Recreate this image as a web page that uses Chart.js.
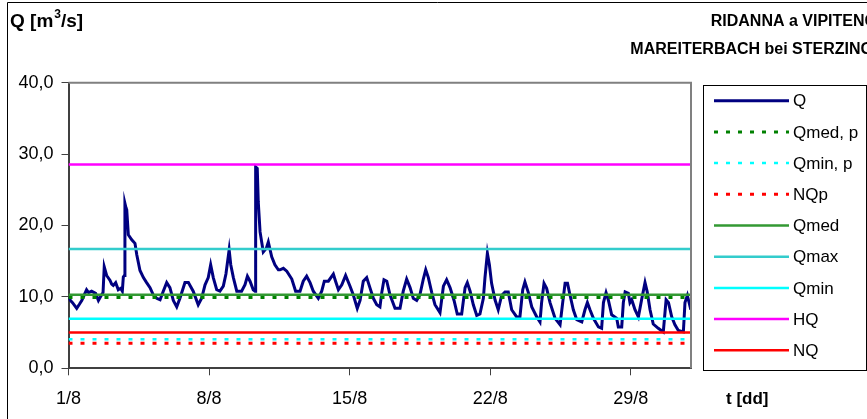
<!DOCTYPE html>
<html>
<head>
<meta charset="utf-8">
<script src="https://cdn.jsdelivr.net/npm/chart.js@4.4.1/dist/chart.umd.min.js"></script>
<style>
    html, body { margin: 0; padding: 0; background: #fff; }
</style>
</head>
<body>
<canvas id="qChart" width="867" height="419"></canvas>
<script>
// portata oraria (giorni dal 1/8, m3/s)
const qDays = [
    0.00, 0.10, 0.20, 0.41, 0.55, 0.66, 0.90, 1.00, 1.15, 1.35, 1.49, 1.65, 1.72, 1.78, 1.90,
    2.07, 2.15, 2.23, 2.35, 2.48, 2.60, 2.68, 2.73, 2.78, 2.81, 2.86, 2.90, 2.98, 3.15, 3.31,
    3.40, 3.56, 3.73, 3.89, 4.06, 4.22, 4.39, 4.56, 4.72, 4.89, 5.05, 5.22, 5.39, 5.55, 5.80,
    5.97, 6.21, 6.46, 6.63, 6.80, 6.96, 7.08, 7.21, 7.38, 7.54, 7.71, 7.84, 8.00, 8.08, 8.21,
    8.38, 8.62, 8.79, 8.91, 9.04, 9.20, 9.29, 9.32, 9.40, 9.45, 9.54, 9.70, 9.85, 9.95, 10.12,
    10.28, 10.45, 10.53, 10.70, 10.87, 11.12, 11.31, 11.53, 11.69, 11.86, 12.03, 12.19, 12.44, 12.61, 12.74,
    12.94, 13.19, 13.30, 13.44, 13.61, 13.80, 14.02, 14.18, 14.38, 14.52, 14.68, 14.85, 15.01, 15.18, 15.35,
    15.51, 15.60, 15.71, 15.85, 16.01, 16.26, 16.51, 16.67, 16.84, 17.01, 17.17, 17.34, 17.50, 17.67, 17.79,
    17.92, 18.09, 18.25, 18.50, 18.67, 18.83, 19.00, 19.20, 19.36, 19.58, 19.75, 19.86, 20.00, 20.16, 20.33,
    20.49, 20.66, 20.74, 20.86, 20.96, 21.07, 21.24, 21.40, 21.57, 21.74, 21.90, 22.07, 22.32, 22.48, 22.62,
    22.73, 22.90, 23.07, 23.32, 23.48, 23.56, 23.68, 23.81, 23.98, 24.23, 24.48, 24.61, 24.73, 24.85, 24.98,
    25.14, 25.31, 25.56, 25.72, 25.84, 25.97, 26.14, 26.39, 26.55, 26.64, 26.77, 26.88, 27.05, 27.30, 27.38,
    27.55, 27.63, 27.72, 27.88, 27.96, 28.05, 28.21, 28.38, 28.54, 28.71, 28.82, 28.96, 29.12, 29.37, 29.62,
    29.76, 29.88, 30.04, 30.20, 30.37, 30.62, 30.70, 30.82, 30.99
];
const qValues = [
    9.9, 9.5, 9.2, 8.4, 9.0, 9.5, 11.0, 10.6, 10.8, 10.5, 9.5, 10.3, 10.6, 14.2, 13.0,
    12.3, 11.8, 11.6, 12.0, 11.0, 11.2, 10.8, 12.8, 13.0, 23.1, 22.5, 22.2, 18.7, 18.0, 17.5,
    15.9, 13.7, 12.7, 12.0, 11.3, 10.3, 9.8, 9.6, 10.8, 12.0, 11.3, 9.5, 8.6, 9.8, 12.0,
    12.0, 10.8, 8.9, 9.8, 11.7, 12.7, 14.5, 12.7, 11.0, 10.8, 11.5, 13.2, 16.6, 14.5, 12.7,
    10.8, 10.8, 11.7, 12.9, 12.2, 11.0, 10.8, 28.2, 28.0, 23.3, 19.1, 16.3, 16.8, 17.7, 15.6,
    14.5, 13.8, 13.8, 14.0, 13.6, 12.5, 10.8, 10.8, 12.2, 12.9, 12.0, 10.8, 9.8, 10.8, 12.2,
    12.2, 13.2, 12.2, 11.0, 11.7, 13.0, 11.5, 10.3, 8.4, 9.5, 12.2, 12.7, 11.3, 9.8, 8.9,
    8.6, 10.6, 12.4, 12.2, 10.3, 8.4, 8.4, 10.8, 12.5, 11.3, 9.8, 9.5, 10.3, 12.5, 13.8,
    12.7, 10.6, 8.9, 7.8, 11.5, 12.4, 11.3, 9.5, 7.6, 7.6, 11.3, 12.0, 10.8, 8.9, 7.4,
    7.6, 9.8, 12.7, 16.1, 14.5, 11.9, 9.6, 8.2, 10.2, 10.7, 10.7, 8.2, 7.2, 7.2, 11.0,
    12.1, 10.6, 8.6, 7.2, 6.5, 9.2, 11.9, 11.2, 9.2, 7.0, 6.1, 9.2, 11.9, 11.9, 10.2,
    8.2, 6.8, 6.5, 8.2, 9.2, 8.2, 7.0, 5.8, 5.6, 9.2, 10.6, 9.6, 7.5, 7.0, 5.8,
    5.8, 9.2, 10.7, 10.5, 9.2, 9.6, 8.2, 7.2, 9.6, 12.0, 10.7, 8.2, 6.2, 5.6, 5.1,
    9.6, 9.2, 7.2, 6.1, 5.3, 5.1, 9.2, 10.2, 8.2
];

// valori di riferimento (linee orizzontali)
const refNames  = ['Qmed, p', 'Qmin, p', 'NQp', 'Qmed', 'Qmax', 'Qmin', 'HQ', 'NQ'];
const refValues = [9.9, 4.06, 3.5, 10.3, 16.7, 6.95, 28.55, 5.0];

// stile delle linee
const refColors = ['#008000', '#00FFFF', '#FF0000', '#339933', '#33CCCC', '#00FFFF', '#FF00FF', '#FF0000'];
const refWidths = [3, 2.5, 3, 2.5, 2.5, 2.5, 2.5, 2.5];
const refDashes = [[4, 8], [4, 8], [4, 8], [], [], [], [], []];

const xTickLabels = ['1/8', '8/8', '15/8', '22/8', '29/8'];
const lastDay = 31;

//titoli, cornice e legenda disegnati a mano
const decorations = {
    id: 'decorations',
    afterDraw(chart) {
        const ctx = chart.ctx;
        const a = chart.chartArea;
        ctx.save();

        //cornice esterna
        ctx.strokeStyle = '#000';
        ctx.lineWidth = 1;
        ctx.beginPath();
        ctx.moveTo(7.5, 419);
        ctx.lineTo(7.5, 2.5);
        ctx.lineTo(867, 2.5);
        ctx.stroke();

        //bordo grigio area grafico
        ctx.strokeStyle = '#808080';
        ctx.lineWidth = 2;
        ctx.beginPath();
        ctx.moveTo(a.left, a.top);
        ctx.lineTo(a.right, a.top);
        ctx.lineTo(a.right, a.bottom);
        ctx.stroke();

        //titoli
        ctx.fillStyle = '#000';
        ctx.textBaseline = 'middle';
        ctx.font = 'bold 19px "Liberation Sans", Arial, sans-serif';
        ctx.textAlign = 'left';
        let x = 10;
        ctx.fillText('Q [m', x, 22);
        x += ctx.measureText('Q [m').width;
        ctx.font = 'bold 12px "Liberation Sans", Arial, sans-serif';
        ctx.fillText('3', x + 1, 15);
        x += ctx.measureText('3').width + 1;
        ctx.font = 'bold 19px "Liberation Sans", Arial, sans-serif';
        ctx.fillText('/s]', x, 22);

        ctx.font = 'bold 16px "Liberation Sans", Arial, sans-serif';
        ctx.textAlign = 'right';
        ctx.fillText('RIDANNA a VIPITENO', 877, 22);
        ctx.fillText('MAREITERBACH bei STERZING', 873, 50);

        ctx.font = 'bold 17px "Liberation Sans", Arial, sans-serif';
        ctx.textAlign = 'left';
        ctx.fillText('t [dd]', 726, 399);

        //legenda
        ctx.strokeStyle = '#000';
        ctx.lineWidth = 1;
        ctx.strokeRect(703.5, 85.5, 163, 285);
        ctx.font = '17px "Liberation Sans", Arial, sans-serif';
        chart.data.datasets.forEach((ds, i) => {
            const y = 100.7 + i * 31.2;
            ctx.strokeStyle = ds.borderColor;
            ctx.lineWidth = ds.borderWidth;
            ctx.setLineDash(ds.borderDash || []);
            ctx.beginPath();
            ctx.moveTo(714, y);
            ctx.lineTo(789, y);
            ctx.stroke();
            ctx.setLineDash([]);
            ctx.fillStyle = '#000';
            ctx.fillText(ds.label, 793, y + 1);
        });
        ctx.restore();
    }
};

const datasets = [{
    label: 'Q',
    data: qDays.map((d, i) => ({ x: d, y: qValues[i] })),
    borderColor: '#000080',
    borderWidth: 3,
    pointRadius: 0,
    tension: 0,
    order: 1
}];
refNames.forEach((name, i) => {
    datasets.push({
        label: name,
        data: [{ x: 0, y: refValues[i] }, { x: lastDay, y: refValues[i] }],
        borderColor: refColors[i],
        borderWidth: refWidths[i],
        borderDash: refDashes[i],
        pointRadius: 0,
        order: 0
    });
});

new Chart(document.getElementById('qChart'), {
    type: 'line',
    data: { datasets },
    options: {
        responsive: false,
        animation: false,
        layout: { padding: { top: 82.7, right: 176, left: 0, bottom: 0 } },
        plugins: { legend: { display: false }, tooltip: { enabled: false } },
        scales: {
            x: {
                type: 'linear',
                min: 0,
                max: lastDay,
                afterBuildTicks: scale => {
                    scale.ticks = xTickLabels.map((l, i) => ({ value: i * 7 }));
                },
                afterFit: scale => { scale.height = 419 - 368.3; },
                ticks: {
                    callback: v => xTickLabels[v / 7] ?? '',
                    color: '#000',
                    font: { family: '"Liberation Sans", Arial', size: 18 },
                    padding: 13,
                    maxRotation: 0,
                    autoSkip: false
                },
                grid: { drawOnChartArea: false, tickLength: 7, tickColor: '#404040', tickWidth: 1 },
                border: { color: '#404040', width: 2 }
            },
            y: {
                min: 0,
                max: 40,
                afterFit: scale => { scale.width = 68.5; },
                ticks: {
                    stepSize: 10,
                    callback: v => v.toFixed(1).replace('.', ','),
                    color: '#000',
                    font: { family: '"Liberation Sans", Arial', size: 18 },
                    padding: 8
                },
                grid: { drawOnChartArea: false, tickLength: 7, tickColor: '#404040', tickWidth: 1 },
                border: { color: '#404040', width: 2 }
            }
        }
    },
    plugins: [decorations]
});
</script>
</body>
</html>
